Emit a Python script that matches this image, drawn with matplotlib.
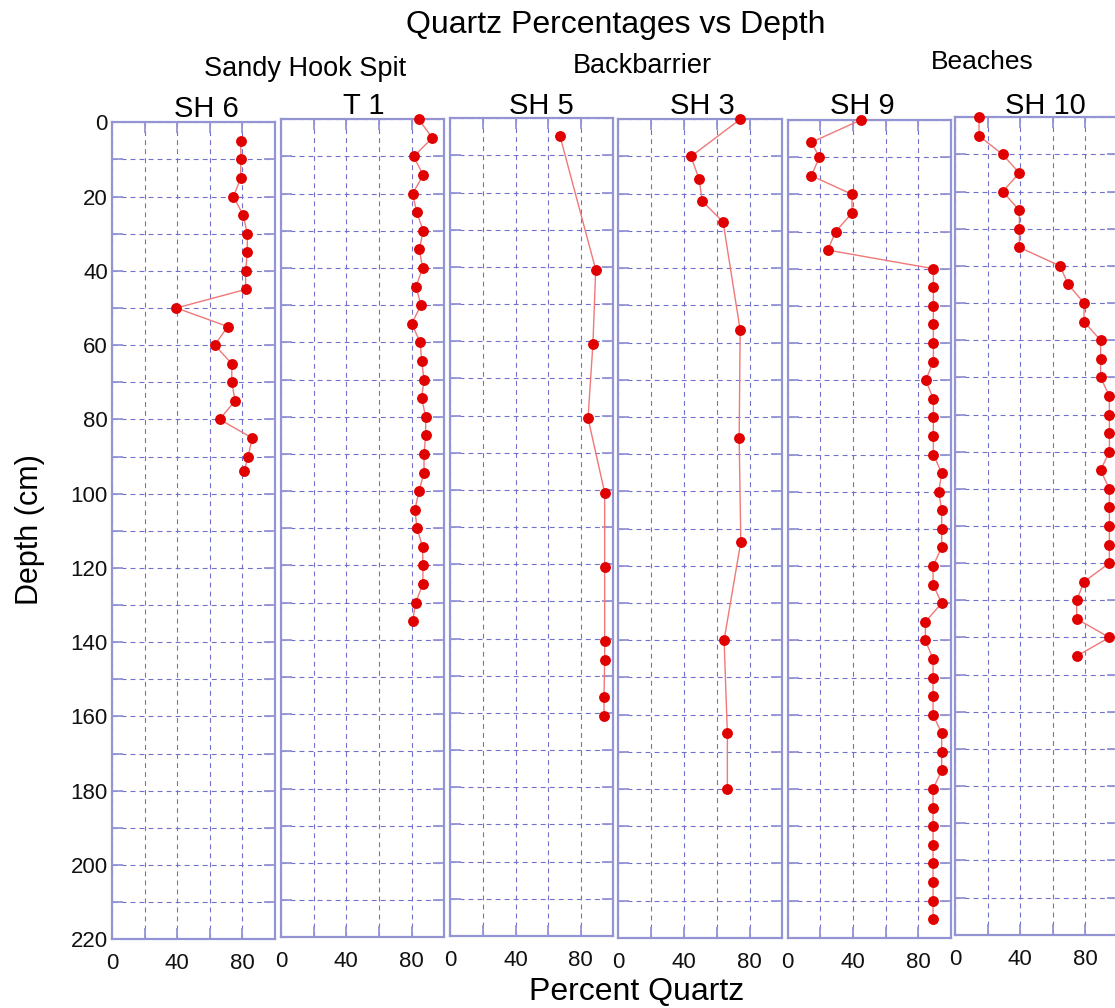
import matplotlib
matplotlib.use("Agg")
import matplotlib.pyplot as plt
from matplotlib.ticker import FixedLocator, FuncFormatter

plt.rcParams['font.family'] = ['Liberation Sans', 'DejaVu Sans']
plt.rcParams['lines.scale_dashes'] = False

# ---------------- data: depth (cm) and percent quartz per core ----------------
cores = ["SH 6", "T 1", "SH 5", "SH 3", "SH 9", "SH 10"]

sh6_depth = [5, 10, 15, 20, 25, 30, 35, 40, 45, 50, 55, 60, 65, 70, 75, 80, 85, 90, 94]
sh6_quartz = [79, 79, 79, 74.5, 80.5, 83, 83, 82, 82, 39.5, 71, 63, 73.5, 73.5, 75.5,
              66, 86, 83.5, 81]

t1_depth = [0, 5, 10, 15, 20, 25, 30, 35, 40, 45, 50, 55, 60, 65, 70, 75, 80, 85, 90,
            95, 100, 105, 110, 115, 120, 125, 130, 135]
t1_quartz = [84.3, 92.7, 81.2, 87.1, 80.6, 83.1, 87.1, 84.7, 86.7, 82.7, 85.7, 80,
             85.3, 86.1, 87.6, 86.1, 88.6, 88.6, 87.6, 87.6, 84.5, 82, 83.3, 86.7,
             86.9, 86.9, 82.4, 80.6]

sh5_depth = [4.8, 40.7, 60.7, 80.7, 100.7, 120.7, 140.7, 145.7, 155.7, 160.7]
sh5_quartz = [67.3, 89.2, 87.5, 84.5, 94.7, 94.7, 94.7, 94.7, 94.3, 94.3]

sh3_depth = [0, 10, 16, 22, 27.6, 56.6, 85.8, 113.6, 140, 165, 180]
sh3_quartz = [74.3, 44.3, 49.2, 51.2, 63.9, 74.3, 73.7, 74.7, 64.5, 66.5, 66.5]

sh9_depth = [0, 6, 10, 15, 20, 25, 30, 35, 40, 45, 50, 55, 60, 65, 70, 75, 80, 85, 90,
             95, 100, 105, 110, 115, 120, 125, 130, 135, 140, 145, 150, 155, 160, 165,
             170, 175, 180, 185, 190, 195, 200, 205, 210, 215]
sh9_quartz = [44.7, 14.5, 19.4, 14.5, 39.4, 39.4, 29.4, 24.5, 89.2, 89.2, 89.2, 89.2,
              89.2, 89.2, 84.5, 89.2, 89.2, 89.2, 89.2, 94.3, 92.5, 94.3, 94.3, 94.3,
              89, 89, 94.3, 84.3, 84.3, 89, 89, 89, 89, 94.3, 94.3, 94.3, 89, 89, 89,
              89, 89, 89, 89, 89]

sh10_depth = [0, 5, 10, 15, 20, 25, 30, 35, 40, 45, 50, 55, 60, 65, 70, 75, 80, 85, 90,
              95, 100, 105, 110, 115, 120, 125, 130, 135, 140, 145]
sh10_quartz = [14.8, 14.8, 29.3, 39.6, 29.3, 39.6, 39.6, 39.6, 64.6, 69.7, 79.4, 79.4,
               89.6, 89.6, 89.6, 95, 95, 95, 95, 89.6, 95, 95, 95, 95, 95, 79.4, 74.9,
               74.9, 95, 74.9]

depths = [sh6_depth, t1_depth, sh5_depth, sh3_depth, sh9_depth, sh10_depth]
quartz = [sh6_quartz, t1_quartz, sh5_quartz, sh3_quartz, sh9_quartz, sh10_quartz]

depth_ticks = list(range(0, 221, 10))
quartz_ticks = [0, 20, 40, 60, 80, 100]

# ---------------- layout (pixel boxes: left, top, right, bottom) ----------------
W, H = 1115, 1008
boxes = [(112, 122.3, 275, 939.3),
         (281, 119.3, 444.3, 937.3),
         (450.3, 118.3, 613.3, 936),
         (618.3, 119.3, 782.3, 937.7),
         (787.7, 120, 951, 937.7),
         (955, 117.3, 1117.5, 934.7)]
title_pos = [(206, 116.7), (364, 114), (541, 114), (702, 114), (862, 114), (1045, 113.5)]

frame_col = '#9494d4'
grid_col = '#7070cc'
mark_col = '#e00000'
line_col = '#f07878'

fig = plt.figure(figsize=(W / 100, H / 100), dpi=100)


def fx(x):
    return x / W


def fy(y):
    return 1 - y / H


for i, (name, d, q) in enumerate(zip(cores, depths, quartz)):
    l, t, r, b = boxes[i]
    ax = fig.add_axes([fx(l), fy(b), (r - l) / W, (b - t) / H])
    ax.set_xlim(0, 100)
    ax.set_ylim(220, 0)
    ax.set_axisbelow(True)
    ax.xaxis.set_major_locator(FixedLocator(quartz_ticks))
    ax.yaxis.set_major_locator(FixedLocator(depth_ticks))
    ax.xaxis.set_major_formatter(
        FuncFormatter(lambda v, p: f"{int(v)}" if int(v) in (0, 40, 80) else ""))
    if i == 0:
        ax.yaxis.set_major_formatter(
            FuncFormatter(lambda v, p: f"{int(v)}" if int(v) % 20 == 0 else ""))
    else:
        ax.yaxis.set_major_formatter(FuncFormatter(lambda v, p: ""))
    ax.tick_params(direction='in', length=8, width=1.3, color=frame_col,
                   top=True, right=True, labelsize=16, labelcolor='#111111')
    ax.tick_params(axis='x', pad=10)
    ax.tick_params(axis='y', pad=3)
    ax.grid(True, color=grid_col, linewidth=0.8, dashes=(3.5, 3))
    for sp in ax.spines.values():
        sp.set_color(frame_col)
        sp.set_linewidth(1.6)
    ax.plot(q, d, color=line_col, linewidth=1.0, zorder=3, clip_on=False)
    ax.plot(q, d, linestyle='none', marker='o', markersize=6.8,
            markerfacecolor=mark_col, markeredgecolor=mark_col, zorder=4,
            clip_on=False)
    tx, ty = title_pos[i]
    fig.text(fx(tx), fy(ty), name, ha='center', va='baseline', fontsize=21)

# headings
fig.text(fx(616), fy(33), "Quartz Percentages vs Depth", ha='center', va='baseline',
         fontsize=23)
fig.text(fx(305), fy(76), "Sandy Hook Spit", ha='center', va='baseline', fontsize=19.5)
fig.text(fx(642), fy(73), "Backbarrier", ha='center', va='baseline', fontsize=19.5)
fig.text(fx(982), fy(69), "Beaches", ha='center', va='baseline', fontsize=19)

fig.text(fx(30), fy(530), "Depth (cm)", ha='center', va='center', rotation=90,
         fontsize=22)
fig.text(fx(637), fy(1000), "Percent Quartz", ha='center', va='baseline', fontsize=23)

fig.savefig("out.png", dpi=100, facecolor='white')
